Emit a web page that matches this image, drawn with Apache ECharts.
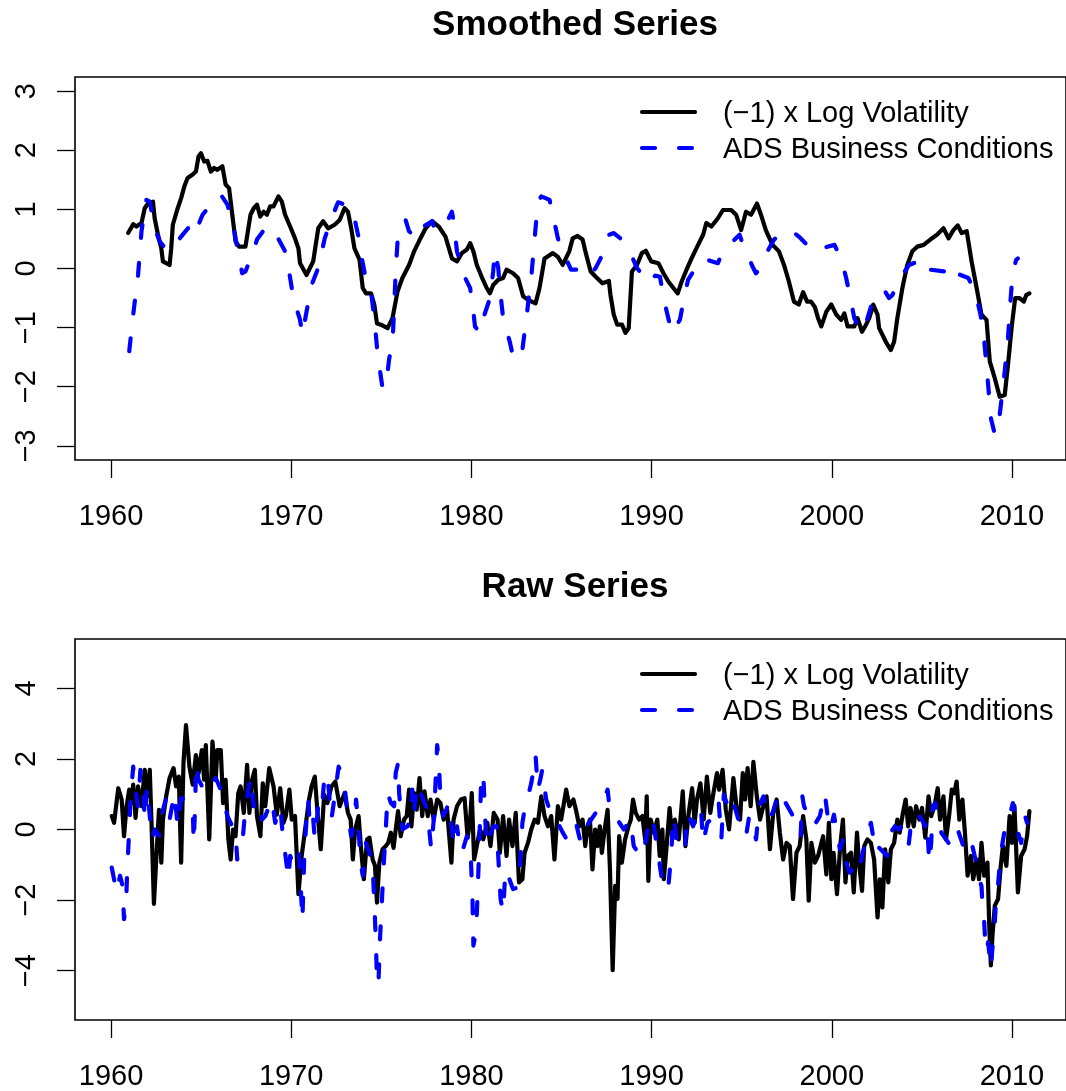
<!DOCTYPE html>
<html>
<head>
<meta charset="utf-8">
<script src="https://cdn.jsdelivr.net/npm/echarts@6/dist/echarts.min.js"></script>
<style>
html,body{margin:0;padding:0;background:#fff;}
#chart{width:1066px;height:1091px;}
</style>
</head>
<body>
<div id="chart"></div>
<script>
// ---- data ([year, value]) ----
const xTicks = [1960, 1970, 1980, 1990, 2000, 2010];
const smoothYTicks = [-3, -2, -1, 0, 1, 2, 3];
const rawYTicks = [-4, -2, 0, 2, 4];
const seriesNames = ['(\u22121) x Log Volatility', 'ADS Business Conditions'];
const titles = ['Smoothed Series', 'Raw Series'];

const smoothVolatility = [[1960.95,0.60],[1961.23,0.75],[1961.41,0.71],[1961.69,0.77],[1961.87,1.02],[1962.05,1.10],[1962.33,1.13],[1962.42,0.85],[1962.60,0.58],[1962.79,0.34],[1962.88,0.12],[1963.06,0.09],[1963.25,0.06],[1963.34,0.34],[1963.43,0.74],[1963.70,1.02],[1963.89,1.19],[1964.07,1.39],[1964.25,1.53],[1964.53,1.59],[1964.71,1.64],[1964.86,1.90],[1964.99,1.95],[1965.17,1.81],[1965.35,1.82],[1965.54,1.64],[1965.72,1.70],[1965.90,1.67],[1966.18,1.73],[1966.36,1.42],[1966.55,1.36],[1966.73,0.91],[1966.91,0.46],[1967.10,0.37],[1967.46,0.37],[1967.74,0.91],[1967.92,1.02],[1968.10,1.08],[1968.28,0.88],[1968.47,0.96],[1968.65,0.91],[1968.83,1.05],[1969.02,1.05],[1969.29,1.22],[1969.48,1.13],[1969.66,0.91],[1969.94,0.71],[1970.21,0.51],[1970.40,0.34],[1970.49,0.09],[1970.85,-0.11],[1971.22,0.12],[1971.50,0.68],[1971.77,0.80],[1972.05,0.68],[1972.41,0.74],[1972.69,0.82],[1972.78,0.85],[1972.96,1.02],[1973.15,0.96],[1973.33,0.68],[1973.51,0.34],[1973.79,0.15],[1973.97,-0.33],[1974.15,-0.42],[1974.43,-0.42],[1974.61,-0.61],[1974.76,-0.93],[1974.98,-0.95],[1975.35,-1.01],[1975.62,-0.84],[1975.90,-0.39],[1976.17,-0.16],[1976.54,0.06],[1976.82,0.29],[1977.09,0.46],[1977.46,0.68],[1977.82,0.80],[1978.19,0.71],[1978.56,0.54],[1978.92,0.17],[1979.20,0.12],[1979.47,0.26],[1979.75,0.32],[1979.93,0.43],[1980.11,0.29],[1980.30,0.06],[1980.57,-0.14],[1980.85,-0.33],[1981.03,-0.42],[1981.21,-0.28],[1981.49,-0.19],[1981.76,-0.16],[1981.95,-0.02],[1982.31,-0.08],[1982.59,-0.16],[1982.87,-0.47],[1983.14,-0.53],[1983.56,-0.59],[1983.78,-0.33],[1984.06,0.17],[1984.52,0.26],[1984.79,0.20],[1985.07,0.06],[1985.43,0.29],[1985.62,0.51],[1985.89,0.55],[1986.17,0.49],[1986.35,0.26],[1986.62,-0.05],[1986.90,-0.14],[1987.27,-0.25],[1987.63,-0.21],[1987.72,-0.45],[1987.90,-0.78],[1988.09,-0.95],[1988.36,-0.95],[1988.55,-1.09],[1988.73,-1.01],[1988.91,-0.05],[1989.19,0.06],[1989.46,0.26],[1989.68,0.30],[1989.98,0.12],[1990.38,0.09],[1990.66,-0.08],[1990.93,-0.22],[1991.21,-0.33],[1991.45,-0.42],[1991.67,-0.22],[1991.94,-0.02],[1992.22,0.17],[1992.58,0.40],[1992.86,0.57],[1993.04,0.77],[1993.32,0.71],[1993.68,0.85],[1993.96,0.99],[1994.42,0.99],[1994.69,0.91],[1994.97,0.65],[1995.24,0.96],[1995.52,0.91],[1995.85,1.10],[1996.07,0.91],[1996.34,0.65],[1996.71,0.40],[1997.07,0.29],[1997.35,0.06],[1997.62,-0.22],[1997.90,-0.56],[1998.17,-0.61],[1998.41,-0.40],[1998.63,-0.56],[1998.85,-0.56],[1999.06,-0.65],[1999.24,-0.84],[1999.42,-0.98],[1999.70,-0.73],[1999.97,-0.61],[2000.25,-0.78],[2000.52,-0.87],[2000.70,-0.76],[2000.88,-0.98],[2001.25,-0.98],[2001.43,-0.84],[2001.68,-1.07],[2001.90,-0.95],[2002.08,-0.84],[2002.30,-0.61],[2002.54,-0.78],[2002.63,-1.01],[2003.00,-1.24],[2003.28,-1.38],[2003.46,-1.24],[2003.64,-0.84],[2003.92,-0.33],[2004.19,0.06],[2004.47,0.29],[2004.74,0.37],[2005.10,0.40],[2005.47,0.49],[2005.84,0.57],[2006.20,0.68],[2006.48,0.51],[2006.75,0.65],[2006.99,0.73],[2007.21,0.60],[2007.49,0.63],[2007.76,0.12],[2008.04,-0.33],[2008.31,-0.78],[2008.59,-0.87],[2008.77,-1.57],[2009.05,-1.86],[2009.32,-2.17],[2009.60,-2.14],[2009.78,-1.63],[2010.00,-0.95],[2010.18,-0.50],[2010.42,-0.50],[2010.66,-0.56],[2010.79,-0.45],[2010.97,-0.42]];

const smoothADS = [[1961.01,-1.40],[1961.23,-0.78],[1961.50,-0.11],[1961.69,0.63],[1961.96,1.16],[1962.15,1.13],[1962.42,0.68],[1962.70,0.46],[1963.15,0.29],[1963.52,0.40],[1964.35,0.71],[1964.62,0.57],[1965.08,0.91],[1965.54,1.08],[1966.09,1.25],[1966.46,1.08],[1966.82,0.68],[1967.01,0.34],[1967.28,-0.08],[1967.46,-0.05],[1967.83,0.23],[1968.10,0.49],[1968.56,0.68],[1968.84,0.57],[1969.11,0.60],[1969.66,0.29],[1969.85,0.01],[1970.12,-0.50],[1970.49,-0.87],[1970.62,-1.12],[1970.85,-0.73],[1971.13,-0.28],[1971.50,0.01],[1971.86,0.51],[1972.32,0.91],[1972.60,1.12],[1973.24,1.05],[1973.51,0.85],[1973.79,0.46],[1973.88,0.23],[1974.15,-0.19],[1974.43,-0.39],[1974.61,-0.84],[1974.80,-1.46],[1975.07,-2.03],[1975.25,-2.00],[1975.44,-1.52],[1975.62,-1.29],[1975.71,-0.67],[1975.80,-0.05],[1975.93,0.60],[1976.35,0.82],[1976.54,0.63],[1977.00,0.51],[1977.18,0.68],[1977.82,0.80],[1978.00,0.63],[1978.74,0.85],[1978.92,0.96],[1979.01,0.80],[1979.20,0.29],[1979.65,-0.16],[1979.93,-0.33],[1980.11,-0.73],[1980.20,-0.98],[1980.48,-1.09],[1980.66,-0.84],[1981.03,-0.50],[1981.21,-0.05],[1981.30,0.29],[1981.49,0.01],[1981.58,-0.33],[1981.76,-0.84],[1982.13,-1.24],[1982.31,-1.49],[1982.77,-1.52],[1983.05,-0.84],[1983.32,-0.16],[1983.51,0.51],[1983.69,1.13],[1983.88,1.22],[1984.34,1.16],[1984.52,0.91],[1984.80,0.51],[1985.07,0.29],[1985.53,-0.02],[1985.99,-0.02],[1986.45,-0.15],[1986.90,0.01],[1987.27,0.23],[1987.63,0.57],[1987.90,0.60],[1988.27,0.51],[1988.82,0.26],[1989.19,0.01],[1989.83,-0.25],[1990.20,-0.12],[1990.47,-0.14],[1990.66,-0.50],[1990.93,-0.84],[1991.12,-1.09],[1991.57,-0.87],[1991.85,-0.42],[1992.03,-0.19],[1992.67,0.12],[1992.85,0.17],[1993.68,0.09],[1993.96,0.29],[1994.88,0.57],[1995.15,0.34],[1995.61,0.03],[1995.79,-0.08],[1995.97,-0.02],[1996.43,0.29],[1996.80,0.49],[1997.53,0.65],[1997.80,0.63],[1998.17,0.54],[1998.99,0.29],[1999.42,0.34],[2000.15,0.40],[2000.52,0.17],[2000.80,-0.16],[2000.98,-0.42],[2001.25,-0.84],[2001.53,-1.01],[2001.71,-1.07],[2001.98,-0.84],[2002.26,-0.56],[2002.90,-0.36],[2003.18,-0.50],[2003.36,-0.45],[2003.92,-0.11],[2004.29,0.06],[2005.20,0.17],[2005.48,-0.02],[2006.30,-0.05],[2006.57,0.06],[2006.66,-0.05],[2007.58,-0.16],[2007.95,-0.39],[2008.22,-0.73],[2008.40,-1.01],[2008.68,-1.97],[2008.83,-2.53],[2009.05,-2.81],[2009.32,-2.48],[2009.60,-1.74],[2009.78,-1.18],[2009.93,-0.50],[2010.05,-0.05],[2010.24,0.15],[2010.33,0.17]];

const rawVolatility = [[1960.04,0.38],[1960.17,0.19],[1960.40,1.17],[1960.59,0.85],[1960.72,-0.19],[1960.86,0.66],[1961.01,1.13],[1961.14,0.75],[1961.23,1.27],[1961.36,0.33],[1961.50,1.22],[1961.69,0.66],[1961.87,1.69],[1962.00,0.94],[1962.15,1.69],[1962.24,0.28],[1962.38,-2.11],[1962.51,-0.85],[1962.66,0.56],[1962.79,-0.94],[1962.88,0.28],[1963.06,0.94],[1963.25,1.46],[1963.47,1.74],[1963.61,1.22],[1963.76,1.50],[1963.89,-0.94],[1964.02,1.88],[1964.16,2.96],[1964.35,1.78],[1964.53,1.27],[1964.71,2.11],[1964.86,1.60],[1965.04,2.25],[1965.17,1.41],[1965.26,2.39],[1965.45,-0.28],[1965.63,2.49],[1965.81,1.41],[1965.90,2.25],[1966.09,2.25],[1966.22,0.75],[1966.36,1.41],[1966.51,-0.28],[1966.64,-0.85],[1966.77,0.00],[1966.91,-0.19],[1967.06,1.03],[1967.19,1.22],[1967.37,0.47],[1967.55,1.83],[1967.68,0.47],[1967.83,1.41],[1967.98,1.69],[1968.10,0.38],[1968.29,-0.19],[1968.42,1.31],[1968.56,0.66],[1968.78,1.74],[1969.02,1.22],[1969.20,0.42],[1969.39,1.17],[1969.57,0.19],[1969.70,0.38],[1969.90,1.13],[1970.03,0.28],[1970.21,0.38],[1970.40,-1.83],[1970.58,-0.75],[1970.77,0.00],[1970.99,0.85],[1971.13,1.22],[1971.31,1.50],[1971.46,0.47],[1971.64,-0.56],[1971.83,0.99],[1972.01,0.75],[1972.23,1.22],[1972.45,1.36],[1972.69,0.66],[1972.96,1.03],[1973.15,0.47],[1973.30,0.28],[1973.42,-0.85],[1973.55,0.00],[1973.74,0.38],[1973.88,-0.56],[1974.03,-1.41],[1974.21,-0.28],[1974.34,-0.23],[1974.52,-0.85],[1974.65,-1.03],[1974.76,-2.07],[1974.89,-0.94],[1975.07,-0.56],[1975.25,-0.47],[1975.38,-0.38],[1975.53,-0.09],[1975.68,-0.52],[1975.80,0.00],[1975.93,0.52],[1976.08,-0.19],[1976.26,0.28],[1976.41,0.38],[1976.54,1.13],[1976.67,0.09],[1976.82,1.03],[1976.96,0.56],[1977.12,1.46],[1977.27,0.38],[1977.40,1.08],[1977.58,0.38],[1977.73,0.85],[1977.91,0.28],[1978.10,0.85],[1978.28,0.75],[1978.46,0.28],[1978.65,0.56],[1978.89,-0.94],[1979.01,0.28],[1979.20,0.66],[1979.42,0.85],[1979.62,0.89],[1979.79,-0.23],[1979.93,0.28],[1980.02,1.03],[1980.15,-0.85],[1980.30,-0.47],[1980.48,0.00],[1980.66,-0.28],[1980.88,0.19],[1981.06,-0.47],[1981.24,0.47],[1981.45,0.28],[1981.58,-0.66],[1981.76,0.38],[1981.95,-0.75],[1982.09,0.28],[1982.28,-0.47],[1982.46,0.47],[1982.64,-1.50],[1982.83,-1.41],[1982.95,-0.66],[1983.14,-0.38],[1983.32,0.00],[1983.51,0.28],[1983.69,0.19],[1983.88,0.94],[1984.06,0.38],[1984.25,0.09],[1984.43,0.38],[1984.61,-0.85],[1984.80,0.66],[1984.98,0.28],[1985.26,1.13],[1985.44,0.66],[1985.66,0.85],[1985.80,0.56],[1985.99,0.09],[1986.17,0.28],[1986.32,-0.47],[1986.45,0.09],[1986.58,0.28],[1986.72,-1.13],[1986.87,0.00],[1987.00,-0.47],[1987.13,0.09],[1987.24,-0.66],[1987.37,-0.09],[1987.56,0.56],[1987.69,-1.13],[1987.84,-3.99],[1987.98,-1.60],[1988.11,-1.97],[1988.20,-0.19],[1988.35,-0.94],[1988.53,-0.28],[1988.72,0.09],[1988.85,0.28],[1988.97,0.85],[1989.12,0.47],[1989.31,0.28],[1989.49,0.38],[1989.64,-0.28],[1989.73,0.94],[1989.82,-1.46],[1989.95,0.28],[1990.13,-0.09],[1990.32,0.28],[1990.45,-0.75],[1990.60,0.00],[1990.68,-1.41],[1990.82,-0.56],[1991.00,0.61],[1991.15,-0.28],[1991.29,0.28],[1991.51,-0.28],[1991.73,1.08],[1991.88,-0.47],[1992.06,0.47],[1992.25,1.17],[1992.39,0.19],[1992.52,0.85],[1992.71,1.31],[1992.89,0.28],[1993.07,1.50],[1993.26,0.47],[1993.40,0.94],[1993.63,1.60],[1993.75,1.13],[1993.94,1.69],[1994.12,0.56],[1994.30,0.00],[1994.54,1.46],[1994.73,0.56],[1994.91,0.28],[1995.06,1.60],[1995.19,0.85],[1995.33,1.74],[1995.50,0.66],[1995.65,1.92],[1995.84,0.94],[1996.02,0.28],[1996.20,0.66],[1996.38,0.94],[1996.57,-0.56],[1996.75,0.47],[1996.94,0.85],[1997.12,-0.09],[1997.30,-0.85],[1997.49,-0.38],[1997.67,-0.47],[1997.85,-1.97],[1998.04,-0.66],[1998.22,-0.47],[1998.41,0.38],[1998.59,-0.28],[1998.72,-2.02],[1998.87,-0.38],[1999.06,-0.94],[1999.24,-0.75],[1999.52,-0.19],[1999.70,-1.27],[1999.84,0.19],[1999.98,-1.41],[2000.10,-0.66],[2000.29,-1.83],[2000.47,-0.47],[2000.62,0.28],[2000.76,-1.50],[2000.89,-0.75],[2001.07,-0.66],[2001.22,-1.78],[2001.40,-0.09],[2001.53,-1.03],[2001.68,-1.74],[2001.80,-0.47],[2001.98,-0.28],[2002.17,-0.38],[2002.35,-0.85],[2002.54,-2.49],[2002.67,-1.41],[2002.81,-2.21],[2002.96,-0.56],[2003.14,-1.50],[2003.28,-0.56],[2003.46,-0.38],[2003.64,0.28],[2003.77,-0.09],[2003.95,0.47],[2004.10,0.85],[2004.24,0.09],[2004.37,0.61],[2004.55,0.09],[2004.68,0.66],[2004.86,0.28],[2005.01,0.61],[2005.19,-0.23],[2005.37,0.94],[2005.52,0.38],[2005.70,0.66],[2005.88,1.17],[2006.01,0.28],[2006.20,0.94],[2006.34,-0.28],[2006.51,0.38],[2006.66,1.13],[2006.80,1.03],[2006.93,1.36],[2007.08,0.28],[2007.25,0.85],[2007.39,-0.09],[2007.54,-1.31],[2007.73,-0.75],[2007.85,-1.41],[2008.04,-0.85],[2008.17,-1.41],[2008.31,-0.38],[2008.46,-1.31],[2008.64,-0.94],[2008.74,-2.72],[2008.83,-3.85],[2008.92,-3.00],[2009.05,-2.16],[2009.23,-1.97],[2009.38,-1.03],[2009.50,-0.47],[2009.69,-1.03],[2009.87,0.38],[2010.00,-0.38],[2010.14,0.66],[2010.33,-1.78],[2010.51,-0.75],[2010.70,-0.56],[2010.84,-0.19],[2010.97,0.52]];

const rawADS = [[1960.04,-1.08],[1960.31,-1.78],[1960.50,-1.31],[1960.64,-1.60],[1960.72,-2.54],[1960.83,-2.16],[1960.90,-1.13],[1961.00,-0.09],[1961.08,0.85],[1961.23,1.78],[1961.41,0.94],[1961.50,0.66],[1961.63,1.69],[1961.78,1.22],[1961.87,0.28],[1962.00,1.22],[1962.15,0.38],[1962.29,-0.28],[1962.42,0.00],[1962.70,-0.19],[1962.88,0.56],[1963.06,0.89],[1963.25,0.28],[1963.52,1.03],[1963.70,0.09],[1963.89,0.89],[1964.13,0.85],[1964.53,0.66],[1964.59,-0.38],[1964.68,0.85],[1964.71,1.88],[1964.86,1.41],[1965.26,1.03],[1965.45,1.22],[1965.81,1.46],[1966.09,1.13],[1966.27,0.75],[1966.46,0.38],[1966.73,0.09],[1966.91,0.00],[1967.00,-0.85],[1967.32,-0.19],[1967.46,0.61],[1967.74,1.50],[1967.92,0.66],[1968.20,0.85],[1968.38,0.28],[1968.56,0.38],[1968.93,0.85],[1969.11,0.19],[1969.39,0.66],[1969.57,-0.38],[1969.66,-0.66],[1969.85,-1.41],[1969.94,-0.75],[1970.03,-0.85],[1970.40,-0.47],[1970.49,-1.22],[1970.58,-2.16],[1970.62,-2.58],[1970.67,-1.69],[1970.73,-0.66],[1970.85,0.28],[1970.95,0.85],[1971.04,0.00],[1971.22,0.28],[1971.31,-0.28],[1971.50,0.66],[1971.68,0.47],[1971.86,1.60],[1972.05,1.31],[1972.23,0.28],[1972.41,0.94],[1972.63,1.78],[1972.78,1.60],[1972.96,1.22],[1973.15,0.38],[1973.33,-0.19],[1973.51,0.19],[1973.60,0.85],[1973.74,0.00],[1973.85,-0.94],[1973.97,-1.31],[1974.15,-0.38],[1974.34,-0.66],[1974.52,-1.03],[1974.61,-2.07],[1974.70,-3.19],[1974.76,-4.32],[1974.84,-4.41],[1974.91,-3.29],[1975.02,-2.16],[1975.13,-1.03],[1975.25,0.00],[1975.35,1.03],[1975.53,0.75],[1975.71,0.66],[1975.80,1.60],[1975.93,1.88],[1975.99,1.03],[1976.17,0.00],[1976.45,0.09],[1976.63,0.28],[1976.72,1.13],[1976.82,0.47],[1976.96,1.31],[1977.18,1.03],[1977.40,0.75],[1977.55,0.56],[1977.77,-0.56],[1977.91,0.28],[1978.00,1.22],[1978.10,2.39],[1978.19,1.97],[1978.25,1.22],[1978.43,0.38],[1978.61,0.56],[1978.74,0.75],[1978.92,0.00],[1979.05,-0.47],[1979.20,0.09],[1979.35,-0.47],[1979.47,-0.66],[1979.75,-0.19],[1979.89,-0.38],[1979.98,-0.94],[1980.06,-1.97],[1980.11,-3.29],[1980.26,-2.91],[1980.34,-1.88],[1980.41,-0.85],[1980.48,0.28],[1980.53,1.22],[1980.66,1.60],[1980.75,0.47],[1980.85,-0.47],[1981.03,-0.19],[1981.21,0.09],[1981.40,0.09],[1981.52,-1.03],[1981.62,-1.97],[1981.76,-2.35],[1981.89,-1.13],[1982.04,-1.31],[1982.31,-1.69],[1982.59,-1.64],[1982.72,-0.85],[1982.83,0.19],[1982.95,0.56],[1983.05,0.75],[1983.32,1.31],[1983.45,1.69],[1983.56,2.11],[1983.69,1.13],[1983.82,1.41],[1983.93,1.69],[1984.15,0.85],[1984.34,0.56],[1984.61,0.19],[1984.80,0.19],[1985.07,-0.09],[1985.29,-0.28],[1985.53,0.09],[1985.80,0.19],[1986.07,-0.38],[1986.26,0.00],[1986.53,0.19],[1986.90,0.47],[1987.13,0.56],[1987.56,1.13],[1987.64,0.75],[1987.79,0.47],[1988.10,0.28],[1988.46,0.00],[1988.83,0.28],[1989.01,-0.47],[1989.19,-0.61],[1989.46,-0.19],[1989.65,-0.38],[1989.92,0.38],[1990.10,0.19],[1990.29,-0.47],[1990.38,-0.75],[1990.57,-1.41],[1990.71,-1.74],[1990.93,-1.64],[1991.08,-0.75],[1991.21,0.38],[1991.39,-0.28],[1991.67,-0.66],[1991.85,-0.47],[1992.00,0.47],[1992.30,0.09],[1992.58,0.47],[1992.73,0.66],[1992.86,-0.38],[1993.10,0.19],[1993.50,0.38],[1993.72,0.80],[1993.87,-0.28],[1994.01,0.99],[1994.42,0.38],[1994.60,0.66],[1994.82,0.28],[1994.97,-0.09],[1995.24,-0.19],[1995.42,0.38],[1995.52,0.19],[1995.80,-0.28],[1995.97,0.66],[1996.21,0.94],[1996.34,0.66],[1996.52,0.28],[1996.71,0.47],[1996.95,0.85],[1997.17,0.56],[1997.39,0.80],[1997.81,0.42],[1998.05,0.28],[1998.27,-0.19],[1998.37,0.94],[1998.46,0.66],[1998.83,0.28],[1999.00,0.09],[1999.34,0.38],[1999.61,1.03],[1999.80,0.28],[1999.93,0.00],[2000.12,0.42],[2000.23,0.09],[2000.45,-0.56],[2000.62,-0.28],[2000.80,-0.94],[2000.99,-1.22],[2001.35,-1.03],[2001.50,-1.22],[2001.68,-0.75],[2001.81,-0.47],[2002.17,0.19],[2002.26,-0.09],[2002.45,-0.66],[2002.63,-0.52],[2002.90,-0.66],[2003.08,-0.75],[2003.26,-0.09],[2003.50,0.09],[2003.72,0.00],[2003.90,0.09],[2004.17,-0.14],[2004.26,-0.47],[2004.45,0.38],[2004.73,0.47],[2005.00,0.28],[2005.19,0.09],[2005.28,0.28],[2005.41,-0.94],[2005.52,-0.38],[2005.60,0.66],[2005.75,0.75],[2005.93,0.19],[2006.08,-0.09],[2006.48,-0.38],[2006.66,-0.09],[2006.93,0.09],[2007.30,-0.47],[2007.42,-0.19],[2007.76,-0.38],[2007.98,-0.85],[2008.17,-1.41],[2008.31,-1.60],[2008.38,-2.25],[2008.46,-2.63],[2008.53,-3.29],[2008.59,-3.47],[2008.68,-3.19],[2008.83,-3.94],[2008.90,-3.47],[2009.05,-2.63],[2009.14,-1.78],[2009.24,-1.50],[2009.33,-0.94],[2009.42,-0.56],[2009.60,0.00],[2009.75,0.28],[2009.87,0.38],[2010.05,0.75],[2010.14,0.56],[2010.28,0.00],[2010.51,-0.38],[2010.73,0.38],[2010.84,0.19]];

// ---- chart ----
const FONT = '"Liberation Sans", Arial, Helvetica, sans-serif';
const fmtNum = v => (v < 0 ? '\u2212' + Math.abs(v) : String(v));

function xAxisFor(gridIndex) {
  return {
    type: 'value', gridIndex, min: 1958, max: 2013,
    axisLine: { show: false, onZero: false },
    splitLine: { show: false },
    axisTick: { show: true, length: 18, customValues: xTicks, lineStyle: { color: '#000', width: 1.3 } },
    axisLabel: { customValues: xTicks, margin: 42, fontSize: 29, color: '#000', fontFamily: FONT, formatter: v => String(v) }
  };
}
function yAxisFor(gridIndex, lim, ticks) {
  return {
    type: 'value', gridIndex, min: -lim, max: lim,
    axisLine: { show: false, onZero: false },
    splitLine: { show: false },
    axisTick: { show: true, length: 18, customValues: ticks, lineStyle: { color: '#000', width: 1.3 } },
    axisLabel: { customValues: ticks, rotate: 90, margin: 34, fontSize: 29, color: '#000', fontFamily: FONT, formatter: fmtNum }
  };
}
function lineSeries(idx, data, dashed) {
  return {
    type: 'line', xAxisIndex: idx, yAxisIndex: idx, data,
    showSymbol: false, symbol: 'none', silent: true,
    lineStyle: dashed
      ? { color: '#0000ff', width: 4.2, type: [13, 25], cap: 'round', join: 'round' }
      : { color: '#000000', width: 4.2, cap: 'round', join: 'round' },
    z: dashed ? 3 : 2
  };
}
function legendGraphics(y0) {
  return [
    { type: 'line', shape: { x1: 642, y1: y0, x2: 695, y2: y0 }, style: { stroke: '#000', lineWidth: 4.2, lineCap: 'round' } },
    { type: 'line', shape: { x1: 642, y1: y0 + 36, x2: 695, y2: y0 + 36 }, style: { stroke: '#0000ff', lineWidth: 4.2, lineCap: 'round', lineDash: [13, 24] } },
    { type: 'text', x: 723, y: y0 + 2, style: { text: seriesNames[0], font: '29px ' + FONT, fill: '#000', textAlign: 'left', textVerticalAlign: 'middle' } },
    { type: 'text', x: 723, y: y0 + 38, style: { text: seriesNames[1], font: '29px ' + FONT, fill: '#000', textAlign: 'left', textVerticalAlign: 'middle' } }
  ];
}

const chart = echarts.init(document.getElementById('chart'), null, { renderer: 'canvas' });
chart.setOption({
  animation: false,
  backgroundColor: '#ffffff',
  grid: [
    { left: 75, top: 77, width: 1000, height: 383, show: true, borderColor: '#000', borderWidth: 1.6, backgroundColor: 'transparent', containLabel: false },
    { left: 75, top: 639, width: 1000, height: 383, show: true, borderColor: '#000', borderWidth: 1.6, backgroundColor: 'transparent', containLabel: false }
  ],
  xAxis: [xAxisFor(0), xAxisFor(1)],
  yAxis: [yAxisFor(0, 3.24, smoothYTicks), yAxisFor(1, 5.4, rawYTicks)],
  series: [
    lineSeries(0, smoothVolatility, false),
    lineSeries(0, smoothADS, true),
    lineSeries(1, rawVolatility, false),
    lineSeries(1, rawADS, true)
  ],
  graphic: [
    { type: 'text', x: 575, y: 25, style: { text: titles[0], font: 'bold 35px ' + FONT, fill: '#000', textAlign: 'center', textVerticalAlign: 'middle' } },
    { type: 'text', x: 575, y: 587, style: { text: titles[1], font: 'bold 35px ' + FONT, fill: '#000', textAlign: 'center', textVerticalAlign: 'middle' } }
  ].concat(legendGraphics(112), legendGraphics(674))
});
</script>
</body>
</html>
